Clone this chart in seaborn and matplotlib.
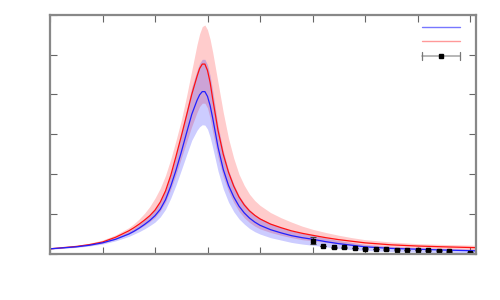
import numpy as np
import matplotlib
matplotlib.use("Agg")
import matplotlib.pyplot as plt
import seaborn as sns
from matplotlib.lines import Line2D
from matplotlib.legend_handler import HandlerBase

# ---- valores ----
x_curve = [0.0, 0.25, 0.5, 0.75, 1.0, 1.25, 1.5,
           1.6, 1.7, 1.8, 1.9, 2.0, 2.1, 2.2, 2.3, 2.4, 2.5, 2.6, 2.7, 2.8,
           2.85, 2.9, 2.95, 3.0, 3.05, 3.1,
           3.2, 3.3, 3.4, 3.5, 3.6, 3.7, 3.8, 3.9, 4.0,
           4.2, 4.4, 4.6, 4.8, 5.0, 5.25, 5.5, 5.75, 6.0, 6.5, 7.0, 7.5, 8.1]

red_mid = [0.13, 0.16, 0.19, 0.235, 0.3, 0.42, 0.58,
           0.66, 0.75, 0.85, 0.96, 1.1, 1.3, 1.58, 1.97, 2.45, 2.95, 3.47, 4.0, 4.45,
           4.65, 4.76, 4.76, 4.6, 4.3, 3.88,
           3.1, 2.5, 2.05, 1.7, 1.43, 1.23, 1.08, 0.97, 0.88,
           0.75, 0.66, 0.58, 0.52, 0.47, 0.41, 0.36, 0.32, 0.28, 0.23, 0.2, 0.18, 0.16]
red_lo = [0.12, 0.15, 0.175, 0.215, 0.27, 0.37, 0.5,
          0.56, 0.64, 0.72, 0.81, 0.92, 1.08, 1.3, 1.62, 1.99, 2.4, 2.8, 3.2, 3.55,
          3.7, 3.78, 3.78, 3.66, 3.4, 3.05,
          2.42, 1.93, 1.57, 1.29, 1.07, 0.91, 0.79, 0.7, 0.63,
          0.54, 0.47, 0.41, 0.36, 0.33, 0.29, 0.25, 0.22, 0.2, 0.16, 0.14, 0.125, 0.11]
red_hi = [0.14, 0.17, 0.21, 0.27, 0.35, 0.48, 0.66,
          0.76, 0.88, 1.02, 1.19, 1.4, 1.65, 1.97, 2.38, 2.85, 3.35, 3.95, 4.6, 5.25,
          5.52, 5.7, 5.74, 5.62, 5.38, 5.05,
          4.3, 3.55, 2.9, 2.4, 2.0, 1.72, 1.5, 1.34, 1.22,
          1.04, 0.91, 0.8, 0.7, 0.62, 0.54, 0.47, 0.41, 0.36, 0.3, 0.26, 0.24, 0.22]

blue_mid = [0.13, 0.155, 0.18, 0.22, 0.28, 0.37, 0.5,
            0.57, 0.65, 0.74, 0.84, 0.96, 1.12, 1.36, 1.7, 2.1, 2.55, 3.03, 3.5, 3.85,
            3.99, 4.07, 4.07, 3.95, 3.72, 3.4,
            2.68, 2.12, 1.72, 1.43, 1.2, 1.03, 0.9, 0.8, 0.72,
            0.61, 0.53, 0.46, 0.41, 0.37, 0.31, 0.26, 0.22, 0.18, 0.14, 0.12, 0.1, 0.08]
blue_lo = [0.12, 0.14, 0.165, 0.2, 0.25, 0.33, 0.44,
           0.5, 0.56, 0.63, 0.71, 0.8, 0.93, 1.12, 1.4, 1.73, 2.1, 2.48, 2.85, 3.1,
           3.19, 3.24, 3.23, 3.13, 2.93, 2.66,
           2.08, 1.63, 1.3, 1.06, 0.88, 0.75, 0.64, 0.56, 0.5,
           0.41, 0.35, 0.29, 0.25, 0.22, 0.18, 0.14, 0.11, 0.09, 0.06, 0.045, 0.03, 0.02]
blue_hi = [0.14, 0.165, 0.195, 0.24, 0.31, 0.42, 0.57,
           0.65, 0.75, 0.86, 0.98, 1.13, 1.32, 1.6, 2.0, 2.48, 3.02, 3.6, 4.18, 4.6,
           4.78, 4.88, 4.88, 4.74, 4.47, 4.08,
           3.22, 2.58, 2.1, 1.75, 1.47, 1.27, 1.11, 0.99, 0.9,
           0.77, 0.67, 0.58, 0.52, 0.47, 0.4, 0.34, 0.29, 0.24, 0.19, 0.16, 0.14, 0.12]

x_pts = [5.0, 5.2, 5.4, 5.6, 5.8, 6.0, 6.2, 6.4, 6.6, 6.8, 7.0, 7.2, 7.4, 7.6, 8.0]
y_pts = [0.33, 0.2, 0.17, 0.17, 0.15, 0.13, 0.125, 0.117, 0.108, 0.1, 0.1, 0.093,
         0.083, 0.067, 0.03]
err_pts = [0.09, 0.01, 0.01, 0.01, 0.01, 0.01, 0.01, 0.01, 0.01, 0.01, 0.01, 0.01,
           0.01, 0.01, 0.01]


class HorizErrHandler(HandlerBase):
    # barra de erro horizontal na legenda (estilo gnuplot)
    def create_artists(self, legend, orig, xd, yd, w, h, fontsize, trans):
        y = h / 2 - yd
        x0, x1 = -xd, w - xd
        cap = 3
        arts = [Line2D([x0, x1], [y, y], color="#aaaaaa", lw=1.2),
                Line2D([x0, x0], [y - cap, y + cap], color="#777777", lw=0.9),
                Line2D([x1, x1], [y - cap, y + cap], color="#777777", lw=0.9),
                Line2D([(x0 + x1) / 2], [y], marker="s", ms=2.5, color="black", lw=0)]
        for a in arts:
            a.set_transform(trans)
        return arts


sns.set_style("white")
fig = plt.figure(figsize=(5, 3), dpi=100)
ax = fig.add_axes([0.1, 0.1533, 0.852, 0.798])

ax.fill_between(x_curve, red_lo, red_hi, color="red", alpha=0.2, lw=0)
ax.fill_between(x_curve, blue_lo, blue_hi, color="blue", alpha=0.2, lw=0)
sns.lineplot(x=x_curve, y=red_mid, ax=ax, color="#ff1010", lw=0.9)
sns.lineplot(x=x_curve, y=blue_mid, ax=ax, color="#2020ff", lw=0.9)
ax.errorbar(x_pts, y_pts, yerr=err_pts, fmt="s", ms=2.4, color="black",
            ecolor="#444444", elinewidth=0.8, capsize=2.5, capthick=0.8)

ax.set_xlim(0, 8.114)
ax.set_ylim(0, 6)
ax.set_xticks(np.arange(0, 9, 1))
ax.set_yticks(np.arange(0, 7, 1))
ax.set_xticklabels([])
ax.set_yticklabels([])
ax.tick_params(direction="in", length=5, width=0.8, color="#666666",
               top=True, right=True, bottom=True, left=True)
for s in ax.spines.values():
    s.set_color("#888888")
    s.set_linewidth(1.6)

handles = [Line2D([], [], color="#7777ff", lw=1),
           Line2D([], [], color="#ff9999", lw=1),
           object()]
leg = ax.legend(handles, ["", "", ""], loc="upper left",
                bbox_to_anchor=(0.858, 1.003), frameon=False, borderpad=0,
                handlelength=2.7, handletextpad=0, labelspacing=0.03,
                handler_map={object: HorizErrHandler()})

fig.savefig("out.png", dpi=100)
